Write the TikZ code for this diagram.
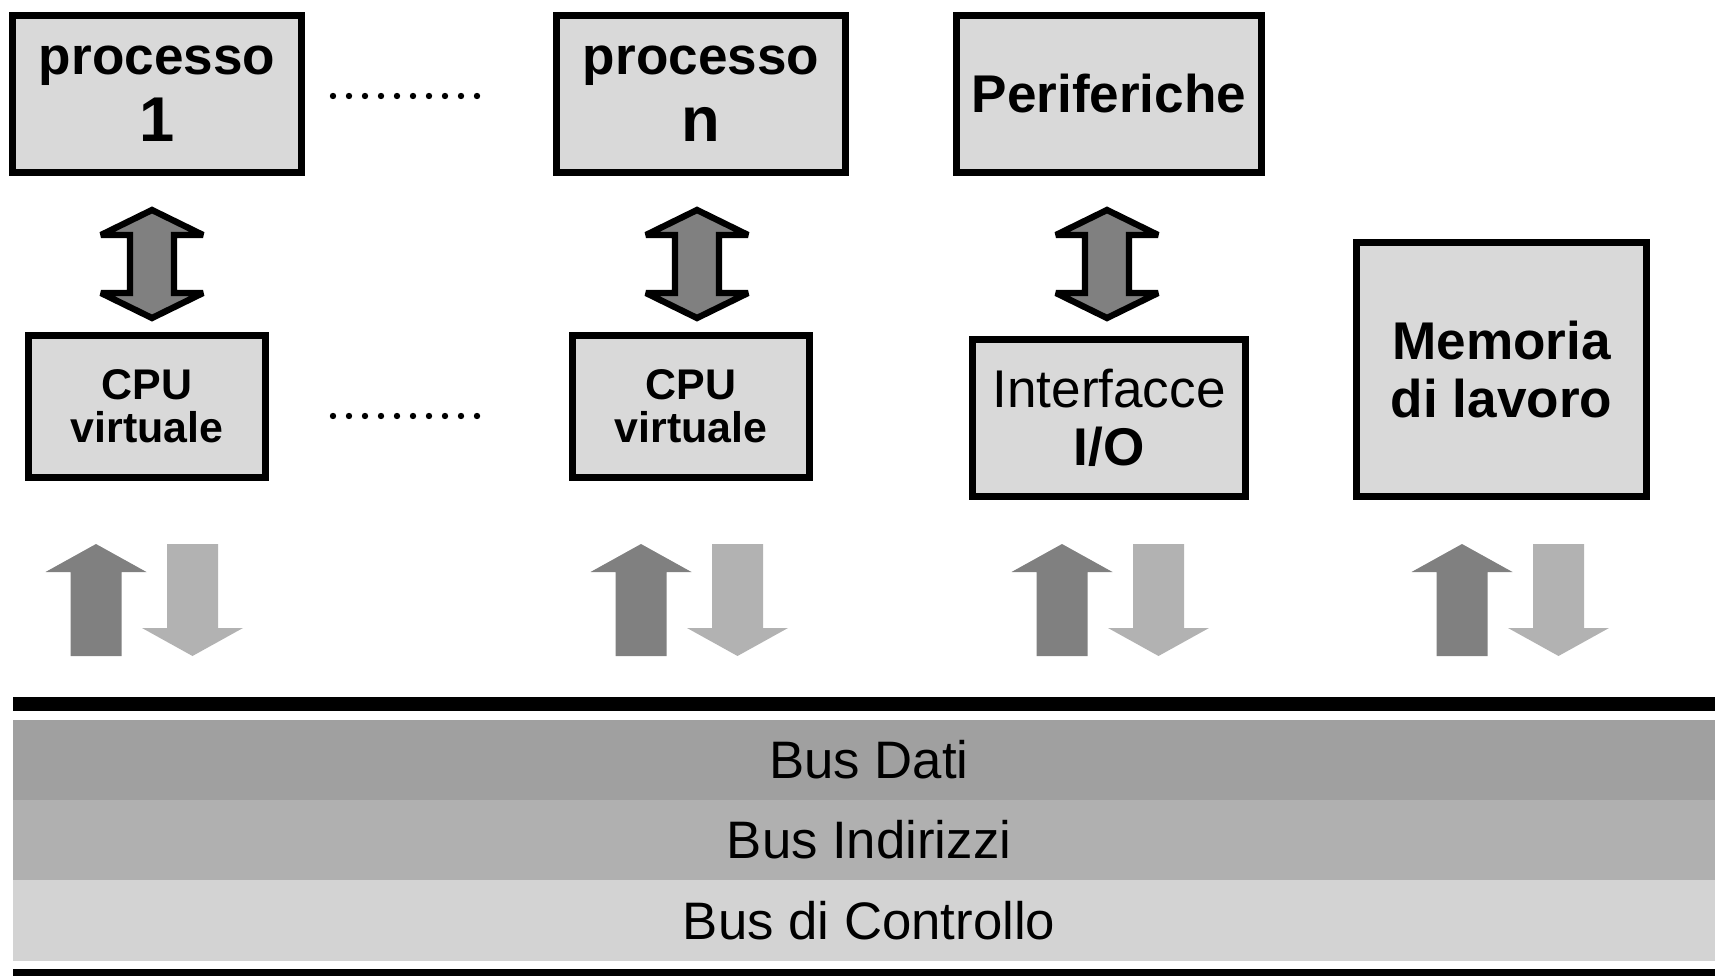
\documentclass[tikz,border=0pt]{standalone}
\usepackage{fontspec}
\setmainfont{Liberation Sans}
\usetikzlibrary{calc}

\definecolor{boxfill}{gray}{0.85}
\definecolor{arrowdark}{gray}{0.5}
\definecolor{arrowlight}{gray}{0.7}
\definecolor{busdati}{gray}{0.627}
\definecolor{busind}{gray}{0.69}
\definecolor{busctrl}{gray}{0.827}

\tikzset{
  box/.style={draw,line width=1.99pt,fill=boxfill,inner sep=0pt,align=center},
  bigtxt/.style={font=\bfseries\fontsize{15.1}{19}\selectfont},
  bidir/.style={draw,fill=arrowdark,line width=1.8pt,miter limit=2},
  band/.style={inner sep=0pt,minimum width=17.12cm,minimum height=0.8cm,font=\fontsize{15}{18}\selectfont}
}

\begin{document}
\begin{tikzpicture}[x=0.01cm,y=-0.01cm]
            \useasboundingbox (0,0) rectangle (1715,976);

            \node[box,bigtxt,minimum width=2.89cm,minimum height=1.57cm] (proc1) at (157,94){processo\\{\fontsize{18}{19}\selectfont 1}};
            \node[box,bigtxt,minimum width=2.89cm,minimum height=1.57cm] (procn) at (701,94){processo\\{\fontsize{18}{19}\selectfont n}};
            \node[box,bigtxt,minimum width=3.05cm,minimum height=1.57cm] (perif) at (1109,94){Periferiche};

            \node[box,font=\bfseries\fontsize{12.2}{12.2}\selectfont,minimum width=2.37cm,minimum height=1.42cm] (cpu1) at (147,406.5){CPU\\virtuale};
            \node[box,font=\bfseries\fontsize{12.2}{12.2}\selectfont,minimum width=2.37cm,minimum height=1.42cm] (cpun) at (691,406.5){CPU\\virtuale};
            \node[box,font=\fontsize{15.1}{16.5}\selectfont,minimum width=2.73cm,minimum height=1.57cm] (iface) at (1109,418){Interfacce\\\textbf{I/O}};
            \node[box,font=\bfseries\fontsize{15.1}{16.5}\selectfont,minimum width=2.90cm,minimum height=2.54cm] (mem) at (1501.5,369.5){Memoria\\di lavoro};

            \foreach \i in {0,...,9}{
              \fill (333+16*\i,96) circle[radius=0.032cm];
              \fill (333+16*\i,416) circle[radius=0.032cm];
            }

            \coordinate (d1) at (152,264);
            \coordinate (d2) at (697,264);
            \coordinate (d3) at (1107,264);
            \foreach \c in {d1,d2,d3}
              \draw[bidir] (\c) ++(0,-54) -- ++(51,25) -- ++(-29,0) -- ++(0,58) -- ++(29,0) -- ++(-51,25)
                -- ++(-51,-25) -- ++(29,0) -- ++(0,-58) -- ++(-29,0) -- cycle;

            \foreach \x/\n in {96/1,641/2,1062/3,1462/4}{
              \coordinate (up\n) at (\x,656);
              \coordinate (dn\n) at (\x+96.5,544);
              \fill[arrowdark] (up\n) ++(-25.5,0) -- ++(51,0) -- ++(0,-84) -- ++(25,0) -- ++(-50.5,-28) -- ++(-50.5,28) -- ++(25,0) -- cycle;
              \fill[arrowlight] (dn\n) ++(-25.5,0) -- ++(51,0) -- ++(0,84) -- ++(25,0) -- ++(-50.5,28) -- ++(-50.5,-28) -- ++(25,0) -- cycle;
            }

            \fill (13,697) rectangle (1715,711);
            \node[band,fill=busdati] (dati) at (869,760){Bus Dati};
            \node[band,fill=busind] (indir) at (869,840){Bus Indirizzi};
            \node[band,fill=busctrl] (ctrl) at (869,920.5){Bus di Controllo};
            \fill (13,969) rectangle (1715,980);
          \end{tikzpicture}
\end{document}
